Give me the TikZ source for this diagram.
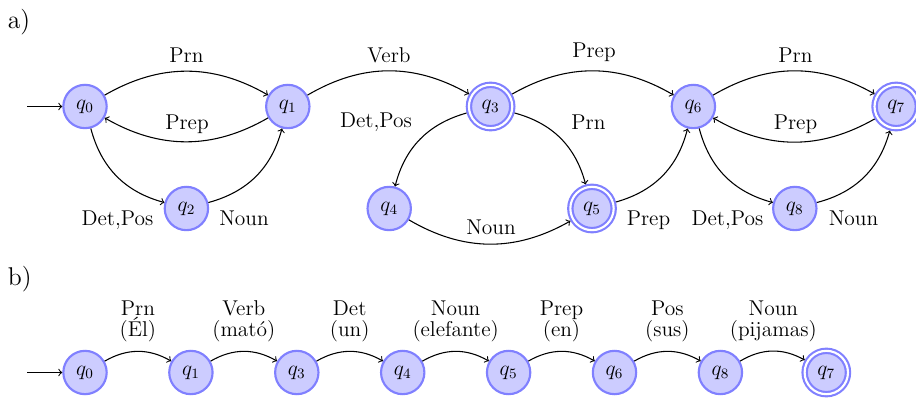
\documentclass[12pt,tikz,border=0pt]{standalone}
\usepackage{fontspec}
\begin{document}
\begin{tikzpicture}[x=0.56054pt,y=-0.56054pt,
  st/.style={circle,fill=blue!20,draw=blue!50,very thick,minimum size=24.3pt,inner sep=0pt},
  acc/.style={st,double,double distance=1.2pt,outer sep=1.8pt},
  lab/.style={inner sep=0pt,anchor=base},
  labtwo/.style={inner sep=0pt,anchor=south,align=center},
  conn/.style={->,semithick},
  tag/.style={inner sep=0pt,anchor=base west,font=\large}]
\useasboundingbox (0,0) rectangle (916,399);
% part a
\node[tag] (ta) at (7.5,28.6) {a)};
\node[st]  (q0) at (85,106.5)    {$q_0$};
\node[st]  (q1) at (287.8,106.5) {$q_1$};
\node[st]  (q2) at (186.4,208.5) {$q_2$};
\node[acc] (q3) at (490.6,106.5) {$q_3$};
\node[st]  (q4) at (389.2,208.5) {$q_4$};
\node[acc] (q5) at (592,208.5)   {$q_5$};
\node[st]  (q6) at (693.4,106.5) {$q_6$};
\node[acc] (q7) at (896.2,106.5) {$q_7$};
\node[st]  (q8) at (794.8,208.5) {$q_8$};
\coordinate (ia) at (27,106.5);
\draw[conn] (ia) -- (q0);
\draw[conn] (q0) to[bend left] (q1);
\draw[conn] (q1) to[bend left] (q0);
\draw[conn] (q0) to[bend right] (q2);
\draw[conn] (q2) to[bend right] (q1);
\draw[conn] (q1) to[bend left] (q3);
\draw[conn] (q3) to[bend right] (q4);
\draw[conn] (q3) to[bend left] (q5);
\draw[conn] (q4) to[bend right] (q5);
\draw[conn] (q5) to[bend right] (q6);
\draw[conn] (q3) to[bend left] (q6);
\draw[conn] (q6) to[bend left] (q7);
\draw[conn] (q7) to[bend left] (q6);
\draw[conn] (q6) to[bend right] (q8);
\draw[conn] (q8) to[bend right] (q7);
\node[lab] (l01) at (186.5,62.5) {Prn};
\node[lab] (l10) at (187,130) {Prep};
\node[lab] (l02) at (117.5,225.5) {Det,Pos};
\node[lab] (l21) at (244,225.5) {Noun};
\node[lab] (l13) at (389,63) {Verb};
\node[lab] (l36) at (594,58) {Prep};
\node[lab] (l34) at (376,128) {Det,Pos};
\node[lab] (l35) at (588.5,130) {Prn};
\node[lab] (l45) at (491,235) {Noun};
\node[lab] (l56) at (648.5,225.5) {Prep};
\node[lab] (l68) at (727.5,225.5) {Det,Pos};
\node[lab] (l87) at (853.5,225.5) {Noun};
\node[lab] (l67) at (795.5,63) {Prn};
\node[lab] (l76) at (795.5,130) {Prep};
% part b
\node[tag] (tb) at (7.5,285.3) {b)};
\node[st]  (p0) at (85,372.5)    {$q_0$};
\node[st]  (p1) at (190.9,372.5) {$q_1$};
\node[st]  (p3) at (296.8,372.5) {$q_3$};
\node[st]  (p4) at (402.7,372.5) {$q_4$};
\node[st]  (p5) at (508.6,372.5) {$q_5$};
\node[st]  (p6) at (614.5,372.5) {$q_6$};
\node[st]  (p8) at (720.4,372.5) {$q_8$};
\node[acc] (p7) at (826.3,372.5) {$q_7$};
\coordinate (ib) at (27,372.5);
\draw[conn] (ib) -- (p0);
\draw[conn] (p0) to[bend left] (p1);
\draw[conn] (p1) to[bend left] (p3);
\draw[conn] (p3) to[bend left] (p4);
\draw[conn] (p4) to[bend left] (p5);
\draw[conn] (p5) to[bend left] (p6);
\draw[conn] (p6) to[bend left] (p8);
\draw[conn] (p8) to[bend left] (p7);
\node[labtwo] (m1) at (137.9,342) {Prn\\[-3pt](Él)};
\node[labtwo] (m2) at (243.8,342) {Verb\\[-3pt](mató)};
\node[labtwo] (m3) at (349.7,342) {Det\\[-3pt](un)};
\node[labtwo] (m4) at (455.6,342) {Noun\\[-3pt](elefante)};
\node[labtwo] (m5) at (561.5,342) {Prep\\[-3pt](en)};
\node[labtwo] (m6) at (667.4,342) {Pos\\[-3pt](sus)};
\node[labtwo] (m7) at (773.3,342) {Noun\\[-3pt](pijamas)};
\end{tikzpicture}
\end{document}
